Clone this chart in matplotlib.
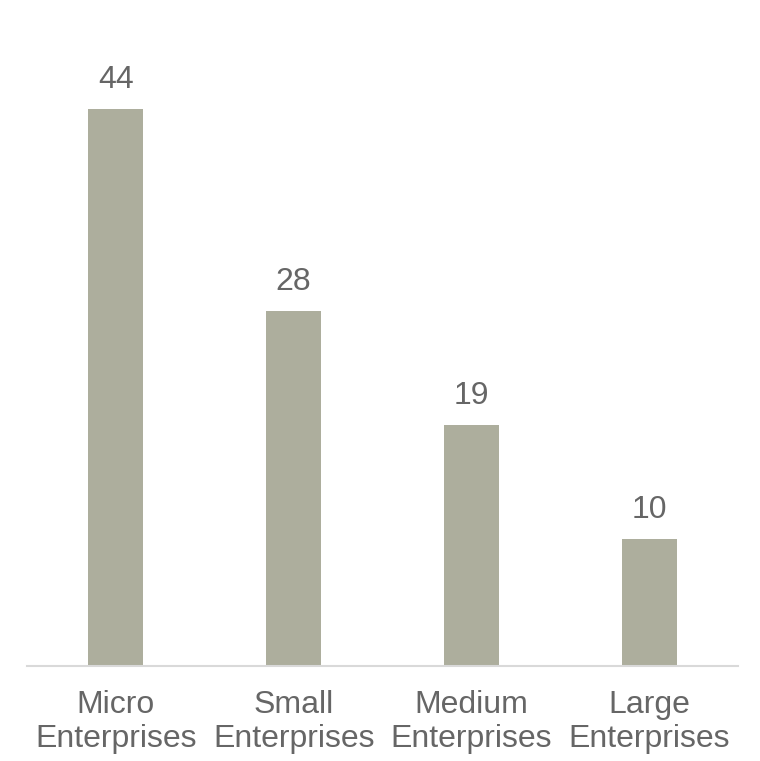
import matplotlib.pyplot as plt

categories = ["Micro\nEnterprises", "Small\nEnterprises", "Medium\nEnterprises", "Large\nEnterprises"]
values = [44, 28, 19, 10]

plt.rcParams['font.family'] = ['Liberation Sans', 'DejaVu Sans']

fig = plt.figure(figsize=(7.6, 7.61), dpi=100)
ax = fig.add_axes([27 / 760, 95 / 761, 711 / 760, 646 / 761])

x = range(len(categories))
bars = ax.bar(x, values, width=0.31, color='#adae9d')
ax.bar_label(bars, labels=[str(v) for v in values], padding=10, fontsize=23, color='#666666')

ax.set_xlim(-0.5, 3.5)
ax.set_ylim(0, 51)
ax.set_xticks(list(x))
ax.set_xticklabels(categories, fontsize=23, color='#666666', linespacing=1.2)
ax.tick_params(axis='x', length=0, pad=17)
ax.set_yticks([])

for side in ['top', 'left', 'right']:
    ax.spines[side].set_visible(False)
ax.spines['bottom'].set_color('#d9d9d9')
ax.spines['bottom'].set_linewidth(1.5)

fig.savefig("out.png", dpi=100)
